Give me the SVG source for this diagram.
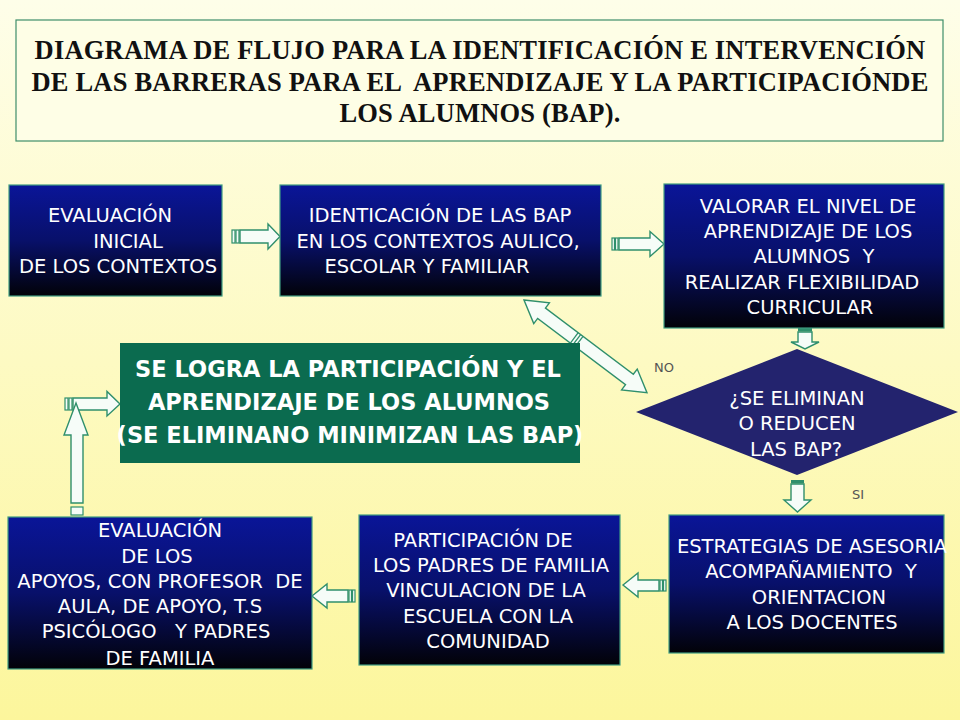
<svg xmlns="http://www.w3.org/2000/svg" width="960" height="720" viewBox="0 0 960 720">
  <defs>
    <linearGradient id="bg" x1="0" y1="0" x2="0" y2="1">
      <stop offset="0" stop-color="#fefee9"/>
      <stop offset="1" stop-color="#fcf69c"/>
    </linearGradient>
    <linearGradient id="navy" x1="0" y1="0" x2="0" y2="1">
      <stop offset="0" stop-color="#0a1598"/>
      <stop offset="0.5" stop-color="#08106a"/>
      <stop offset="1" stop-color="#020208"/>
    </linearGradient>
    <style>
      text { white-space: pre; }
      .box { fill: url(#navy); stroke: #3f9c80; stroke-width: 1.2; }
      .bt { font-family: "DejaVu Sans", "Liberation Sans", sans-serif; font-size: 19.5px; fill: #ffffff; text-anchor: middle; }
      .gt { font-family: "DejaVu Sans", "Liberation Sans", sans-serif; font-weight: bold; font-size: 22.5px; fill: #ffffff; text-anchor: middle; }
      .title { font-family: "Liberation Serif", "Times New Roman", serif; font-weight: bold; font-size: 26.5px; letter-spacing: 0.2px; fill: #111111; text-anchor: middle; }
      .arr { fill: #f6fcf8; stroke: #2f8f6c; stroke-width: 1.4; stroke-linejoin: miter; }
      .stripe { fill: #f6fcf8; stroke: #2f8f6c; stroke-width: 1.2; }
      .lbl { font-family: "DejaVu Sans", "Liberation Sans", sans-serif; font-size: 13px; fill: #555555; }
    </style>
  </defs>

  <rect x="0" y="0" width="960" height="720" fill="url(#bg)"/>

  <g id="title">
    <rect x="16" y="20" width="927" height="121" fill="#fefee6" stroke="#3e8e6a" stroke-width="1.2"/>
    <text class="title" x="480" y="59">DIAGRAMA DE FLUJO PARA LA IDENTIFICACIÓN E INTERVENCIÓN</text>
    <text class="title" x="480" y="91">DE LAS BARRERAS PARA EL  APRENDIZAJE Y LA PARTICIPACIÓNDE</text>
    <text class="title" x="480" y="122">LOS ALUMNOS (BAP).</text>
  </g>

  <g id="connectors">
    <!-- box1 -> box2 -->
    <rect class="stripe" x="232" y="230" width="3" height="13"/>
    <rect class="stripe" x="236" y="230" width="3" height="13"/>
    <polygon class="arr" points="240,230 268,230 268,224 280,236.5 268,249 268,243 240,243"/>
    <!-- box2 -> box3 -->
    <rect class="stripe" x="612" y="238" width="2.5" height="12"/>
    <rect class="stripe" x="615.5" y="238" width="2.5" height="12"/>
    <polygon class="arr" points="619,238 650,238 650,231.5 664,244 650,256.5 650,250 619,250"/>
    <!-- box3 -> diamond -->
    <rect x="798" y="328" width="14" height="3.5" fill="#2f8f6c"/>
    <polygon class="arr" points="798,332 812,332 812,342 819,342 805,349 791,342 798,342"/>
    <!-- diamond -> estrategias -->
    <rect x="791" y="480" width="13" height="3.5" fill="#2f8f6c"/>
    <polygon class="arr" points="791,484 804,484 804,500 811,500 797.5,512 784,500 791,500"/>
    <!-- double diagonal arrow -->
    <g transform="translate(524,300) rotate(37)">
      <polygon class="arr" points="0,0 22,-13 22,-6.5 132,-6.5 132,-13 154,0 132,13 132,6.5 22,6.5 22,13"/>
      <line x1="63" y1="-6.5" x2="63" y2="6.5" stroke="#2f8f6c" stroke-width="1.3"/>
      <line x1="66" y1="-6.5" x2="66" y2="6.5" stroke="#2f8f6c" stroke-width="1.3"/>
      <line x1="69" y1="-6.5" x2="69" y2="6.5" stroke="#2f8f6c" stroke-width="1.3"/>
    </g>
    <!-- estrategias -> participacion -->
    <polygon class="arr" points="623,585 638,573 638,580 659,580 659,591 638,591 638,597"/>
    <rect class="stripe" x="660" y="580" width="2.5" height="11"/>
    <rect class="stripe" x="663.5" y="580" width="2.5" height="11"/>
    <!-- participacion -> evaluacion apoyos -->
    <polygon class="arr" points="312,596 327,584 327,590 348,590 348,602 327,602 327,608"/>
    <rect class="stripe" x="349" y="590" width="2.5" height="12"/>
    <rect class="stripe" x="352.5" y="590" width="2.5" height="12"/>
    <!-- left vertical up -->
    <rect class="stripe" x="71" y="507" width="12" height="8"/>
    <rect class="stripe" x="71" y="518" width="12" height="4"/>
    <!-- horizontal to green box -->
    <rect class="stripe" x="65" y="398" width="3" height="12"/>
    <rect class="stripe" x="69" y="398" width="3" height="12"/>
    <polygon class="arr" points="73,398 107,398 107,391.5 120,404 107,416 107,410 73,410"/>
    <polygon class="arr" points="76,403 88,435 83,435 83,503 71,503 71,435 64,435"/>
    <text class="lbl" x="654" y="372">NO</text>
    <text class="lbl" x="852" y="499">SI</text>
  </g>

  <g id="n1">
    <rect class="box" x="9" y="185" width="213" height="111"/>
    <text class="bt" x="110" y="222">EVALUACIÓN</text>
    <text class="bt" x="128" y="248">INICIAL</text>
    <text class="bt" x="118" y="273">DE LOS CONTEXTOS</text>
  </g>

  <g id="n2">
    <rect class="box" x="280" y="185" width="321" height="111"/>
    <text class="bt" x="440" y="222">IDENTICACIÓN DE LAS BAP</text>
    <text class="bt" x="438" y="248">EN LOS CONTEXTOS AULICO,</text>
    <text class="bt" x="427" y="273">ESCOLAR Y FAMILIAR</text>
  </g>

  <g id="n3">
    <rect class="box" x="664" y="184" width="280" height="144"/>
    <text class="bt" x="808" y="213">VALORAR EL NIVEL DE</text>
    <text class="bt" x="808" y="238">APRENDIZAJE DE LOS</text>
    <text class="bt" x="814" y="263">ALUMNOS  Y</text>
    <text class="bt" x="802" y="289">REALIZAR FLEXIBILIDAD</text>
    <text class="bt" x="810" y="314">CURRICULAR</text>
  </g>

  <g id="n4">
    <rect x="120" y="343" width="460" height="120" fill="#0b6b4f"/>
    <text class="gt" x="348" y="377">SE LOGRA LA PARTICIPACIÓN Y EL</text>
    <text class="gt" x="349" y="410">APRENDIZAJE DE LOS ALUMNOS</text>
    <text class="gt" x="350" y="443">(SE ELIMINANO MINIMIZAN LAS BAP)</text>
  </g>

  <g id="n5">
    <polygon points="797,349 958,412 797,475 636,412" fill="#23236e"/>
    <text class="bt" x="797" y="405">¿SE ELIMINAN</text>
    <text class="bt" x="797" y="430">O REDUCEN</text>
    <text class="bt" x="796" y="456">LAS BAP?</text>
  </g>

  <g id="n6">
    <rect class="box" x="669" y="515" width="275" height="138"/>
    <text class="bt" x="812" y="553">ESTRATEGIAS DE ASESORIA</text>
    <text class="bt" x="811" y="578">ACOMPAÑAMIENTO  Y</text>
    <text class="bt" x="819" y="604">ORIENTACION</text>
    <text class="bt" x="812" y="629">A LOS DOCENTES</text>
  </g>

  <g id="n7">
    <rect class="box" x="359" y="515" width="261" height="150"/>
    <text class="bt" x="483" y="547">PARTICIPACIÓN DE</text>
    <text class="bt" x="491" y="572">LOS PADRES DE FAMILIA</text>
    <text class="bt" x="486" y="597">VINCULACION DE LA</text>
    <text class="bt" x="488" y="623">ESCUELA CON LA</text>
    <text class="bt" x="488" y="648">COMUNIDAD</text>
  </g>

  <g id="n8">
    <rect class="box" x="8" y="517" width="304" height="152"/>
    <text class="bt" x="160" y="537">EVALUACIÓN</text>
    <text class="bt" x="157" y="563">DE LOS</text>
    <text class="bt" x="160" y="588">APOYOS, CON PROFESOR  DE</text>
    <text class="bt" x="160" y="613">AULA, DE APOYO, T.S</text>
    <text class="bt" x="156" y="638">PSICÓLOGO   Y PADRES</text>
    <text class="bt" x="160" y="665">DE FAMILIA</text>
  </g>
</svg>
